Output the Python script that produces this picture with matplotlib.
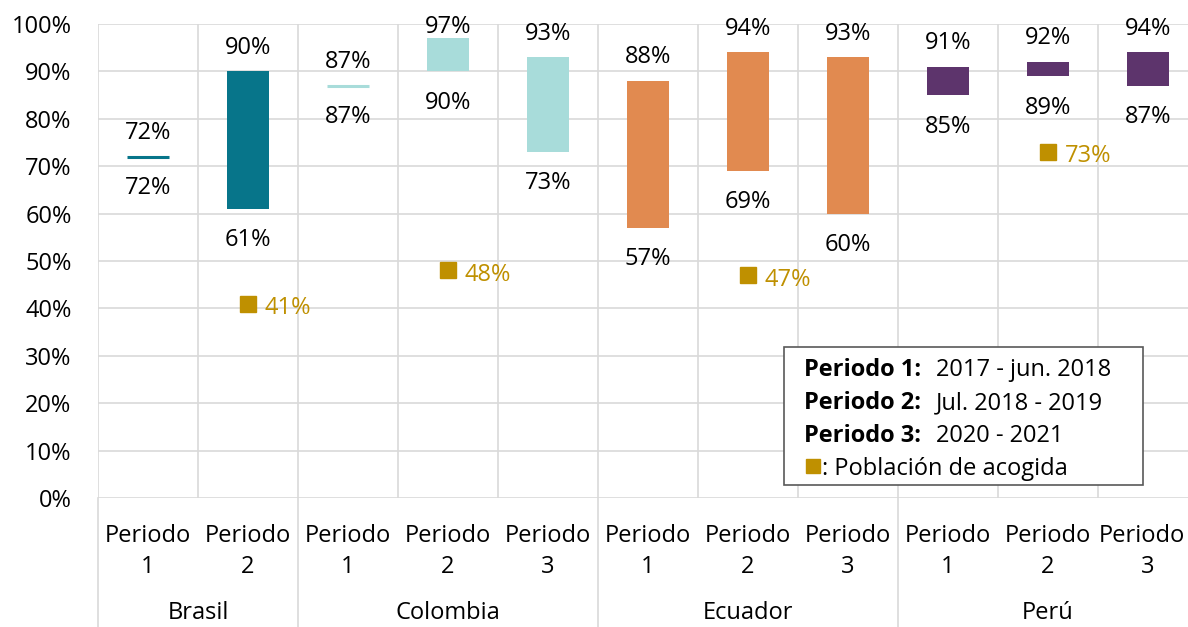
"""Rango de porcentajes por país y periodo, con la población de acogida."""

import matplotlib

matplotlib.use("Agg")

import matplotlib.pyplot as plt
from matplotlib.patches import Rectangle

plt.rcParams["font.family"] = ["Open Sans", "DejaVu Sans"]

W, H = 1188, 627

countries = ["Brasil", "Colombia", "Ecuador", "Perú"]
periods_per_country = [2, 3, 3, 3]
period_labels = ["1", "2", "1", "2", "3", "1", "2", "3", "1", "2", "3"]
low_values = [72, 61, 87, 90, 73, 57, 69, 60, 85, 89, 87]
high_values = [72, 90, 87, 97, 93, 88, 94, 93, 91, 92, 94]
host_positions = [1, 3, 6, 9]
host_values = [41, 48, 47, 73]
country_colors = ["#07758A", "#A8DCDA", "#E18A50", "#5D346C"]
host_color = "#BF9000"
legend_keys = ["Periodo 1:", "Periodo 2:", "Periodo 3:"]
legend_ranges = ["2017 - jun. 2018", "Jul. 2018 - 2019", "2020 - 2021"]
legend_host = ": Población de acogida"

FS = 17
GRID = "#D9D9D9"


def fig_xy(px, py):
    """Pixel position (from top left) to figure fraction."""
    return px / W, 1 - py / H


fig = plt.figure(figsize=(W / 100, H / 100), dpi=100)
ax = fig.add_axes([98 / W, (H - 498) / H, 1100 / W, 474 / H])
ax.set_xlim(-0.5, len(low_values) - 0.5)
ax.set_ylim(0, 100)
for side in ax.spines.values():
    side.set_visible(False)

# grid
ax.set_yticks(range(0, 101, 10))
ax.set_yticklabels([f"{v}%" for v in range(0, 101, 10)])
ax.tick_params(axis="y", length=0, pad=19, labelsize=FS)
ax.set_xticks([])
ax.yaxis.grid(True, color=GRID, linewidth=1.2)
ax.set_axisbelow(True)
bounds = [i - 0.5 for i in range(len(low_values) + 1)]
ax.vlines(bounds, 0, 100, color=GRID, linewidth=1.2, zorder=0.5)

# bar colours follow the country
bar_colors = []
for color, n in zip(country_colors, periods_per_country):
    bar_colors += [color] * n

positions = list(range(len(low_values)))
for x, lo, hi, color in zip(positions, low_values, high_values, bar_colors):
    lw = 2.2 if hi == lo else 0
    ax.bar(x, hi - lo, bottom=lo, width=0.42, color=color,
           edgecolor=color, linewidth=lw, zorder=3)
    top_base = min(hi + 3.7, 98.2)
    ax.text(x, top_base, f"{hi}%", ha="center", va="baseline",
            fontsize=FS, zorder=4)
    ax.text(x, lo - 7.9, f"{lo}%", ha="center", va="baseline",
            fontsize=FS, zorder=4)

# población de acogida
ax.plot(host_positions, host_values, linestyle="none", marker="s",
        markersize=12, color=host_color, zorder=4)
for x, v in zip(host_positions, host_values):
    ax.annotate(f"{v}%", (x, v), xytext=(12, -7.5), textcoords="offset points",
                ha="left", va="baseline", fontsize=FS, color=host_color)

# category labels (the last one sits on the right edge, nudge it in)
for x, lab in zip(positions, period_labels):
    shift = -0.06 if x == positions[-1] else 0
    ax.text(x + shift, -9.3, "Periodo", ha="center", va="baseline",
            fontsize=FS, clip_on=False)
    ax.text(x, -15.8, lab, ha="center", va="baseline", fontsize=FS,
            clip_on=False)

start = 0
for name, n in zip(countries, periods_per_country):
    ax.plot([start - 0.5, start - 0.5], [0, -30], color=GRID, linewidth=1.2,
            clip_on=False)
    ax.text(start + (n - 1) / 2, -25.6, name, ha="center", va="baseline",
            fontsize=FS, clip_on=False)
    start += n

# legend box
x0, y0 = fig_xy(784, 485)
x1, y1 = fig_xy(1143, 347)
fig.add_artist(Rectangle((x0, y0), x1 - x0, y1 - y0, transform=fig.transFigure,
                         facecolor="white", edgecolor="#595959",
                         linewidth=1.2, zorder=10))
for i, (key, rng) in enumerate(zip(legend_keys, legend_ranges)):
    base = 376 + 33 * i
    fig.text(*fig_xy(804, base), key, fontsize=FS, fontweight="bold",
             va="baseline", zorder=11)
    fig.text(*fig_xy(936, base), rng, fontsize=FS, va="baseline", zorder=11)
fig.add_artist(Rectangle(fig_xy(806, 473), 14 / W, 14 / H,
                         transform=fig.transFigure, color=host_color,
                         zorder=11))
fig.text(*fig_xy(822, 475), legend_host, fontsize=FS, va="baseline", zorder=11)

fig.savefig("out.png", dpi=100)
